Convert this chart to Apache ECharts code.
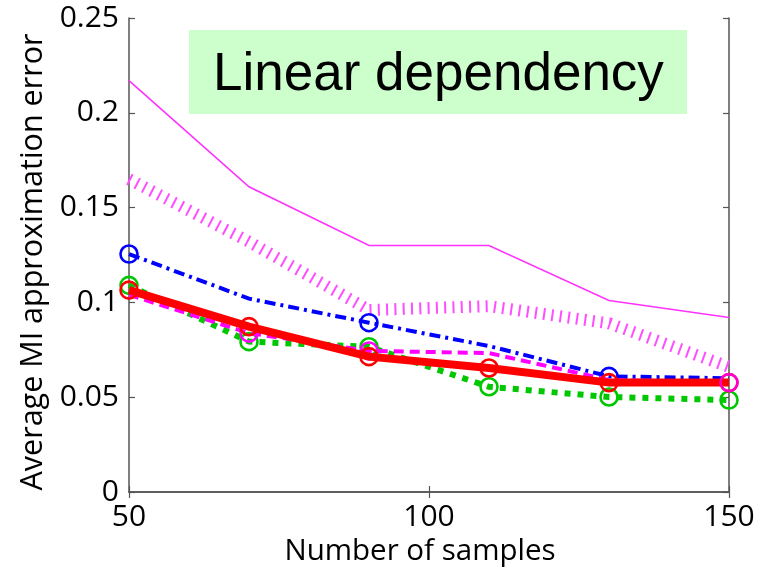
<!DOCTYPE html>
<html>
<head>
<meta charset="utf-8">
<script src="https://cdn.jsdelivr.net/npm/echarts@6/dist/echarts.min.js"></script>
<style>
  html, body { margin: 0; padding: 0; background: #fff; }
  #chart { width: 758px; height: 568px; }
</style>
</head>
<body>
<div id="chart"></div>
<script>
// Sample sizes on the horizontal axis
const samples = [50, 70, 90, 110, 130, 150];

// Average MI approximation error per method
const thinMagenta   = [0.217, 0.161, 0.130, 0.130, 0.101, 0.092];
const hatchMagenta  = [0.165, 0.132, 0.096, 0.098, 0.089, 0.066];
const blueDashDot   = [0.1255, 0.102, 0.0893, 0.077, 0.061, 0.060];
const greenDotted   = [0.109, 0.0793, 0.0766, 0.0555, 0.0501, 0.0485];
const magentaDashed = [0.104, 0.0838, 0.0744, 0.0733, 0.0591, 0.0577];
const redSolid      = [0.1065, 0.0872, 0.0714, 0.0654, 0.0577, 0.0577];

// Which samples carry a circle marker on each curve
const blueMarks = [0, 2, 4];
const greenMarks = [0, 1, 2, 3, 4, 5];
const redMarks = [0, 1, 2, 3, 4, 5];
const magentaMarks = [1, 2];
const magentaEndMarks = [5];

const xTicks = [50, 100, 150];
const yTicks = [0, 0.05, 0.1, 0.15, 0.2, 0.25];

const AXIS_FONT = '"Open Sans", "Noto Sans", sans-serif';

function points(ys, marks) {
  return samples.map((x, i) => ({
    value: [x, ys[i]],
    symbol: marks && marks.includes(i) ? 'circle' : 'none'
  }));
}

function curve(name, ys, marks, color, width, dash, z) {
  return {
    name: name,
    type: 'line',
    data: points(ys, marks),
    symbol: 'circle',
    symbolSize: 17,
    showSymbol: true,
    z: z,
    itemStyle: { color: 'rgba(0,0,0,0)', borderColor: color, borderWidth: 2.6 },
    lineStyle: { color: color, width: width, type: dash, cap: 'butt', join: 'miter' },
    emphasis: { disabled: true },
    silent: true
  };
}

const chart = echarts.init(document.getElementById('chart'), null, { renderer: 'canvas' });

const axisLine = { show: true, lineStyle: { color: '#555', width: 1.5 } };
const innerTicks = { show: true, inside: true, length: 6, lineStyle: { color: '#555', width: 1.2 } };

chart.setOption({
  animation: false,
  backgroundColor: '#fff',
  grid: { left: 129, right: 29, top: 18, bottom: 76, containLabel: false, outerBoundsMode: 'none' },
  xAxis: [
    {
      type: 'value', min: 50, max: 150, interval: 50, position: 'bottom',
      name: 'Number of samples', nameLocation: 'middle', nameGap: 37,
      nameTextStyle: { color: '#000', fontFamily: AXIS_FONT, fontSize: 29.5, padding: [0, 18, 0, 0] },
      axisLine: axisLine, axisTick: innerTicks, splitLine: { show: false },
      axisLabel: {
        margin: 10, color: '#000', fontFamily: AXIS_FONT, fontSize: 30,
        formatter: v => xTicks.includes(v) ? String(v) : ''
      }
    },
    {
      type: 'value', min: 50, max: 150, interval: 50, position: 'top',
      axisLine: axisLine, axisTick: innerTicks, splitLine: { show: false },
      axisLabel: { show: false }
    }
  ],
  yAxis: [
    {
      type: 'value', min: 0, max: 0.25, interval: 0.05, position: 'left',
      name: 'Average MI approximation error', nameLocation: 'middle', nameGap: 78,
      nameTextStyle: { color: '#000', fontFamily: AXIS_FONT, fontSize: 30.5, padding: [0, 14, 0, 0] },
      axisLine: axisLine, axisTick: innerTicks, splitLine: { show: false },
      axisLabel: {
        margin: 10, color: '#000', fontFamily: AXIS_FONT, fontSize: 30,
        formatter: v => {
          const t = yTicks.find(k => Math.abs(k - v) < 1e-9);
          return t === undefined ? '' : String(t);
        }
      }
    },
    {
      type: 'value', min: 0, max: 0.25, interval: 0.05, position: 'right',
      axisLine: axisLine, axisTick: innerTicks, splitLine: { show: false },
      axisLabel: { show: false }
    }
  ],
  graphic: [
    {
      type: 'rect', z: 1, silent: true,
      shape: { x: 189, y: 30, width: 498, height: 84 },
      style: { fill: '#ccffcc' }
    },
    {
      type: 'text', z: 2, silent: true, x: 213, y: 75,
      style: {
        text: 'Linear dependency', fill: '#000',
        font: '53px "Liberation Sans", Arial, sans-serif',
        textAlign: 'left', textVerticalAlign: 'middle'
      }
    }
  ],
  series: [
    curve('hatched', hatchMagenta, null, '#ff4dff', 12, [2, 6.3], 3),
    curve('thin', thinMagenta, null, '#ff33ff', 1.6, 'solid', 4),
    curve('blue', blueDashDot, blueMarks, '#0000ff', 4, [11, 5, 3, 5], 5),
    curve('green', greenDotted, greenMarks, '#00c800', 6, [6, 7], 6),
    curve('magenta', magentaDashed, magentaMarks, '#ff00ff', 4, [10, 6], 7),
    curve('red', redSolid, redMarks, '#ff0000', 8, 'solid', 8),
    {
      name: 'magenta end', type: 'scatter', z: 9, silent: true,
      data: magentaEndMarks.map(i => [samples[i], magentaDashed[i]]),
      symbol: 'circle', symbolSize: 17,
      itemStyle: { color: 'rgba(0,0,0,0)', borderColor: '#ff00ff', borderWidth: 2.6 },
      emphasis: { disabled: true }
    }
  ]
});
</script>
</body>
</html>
